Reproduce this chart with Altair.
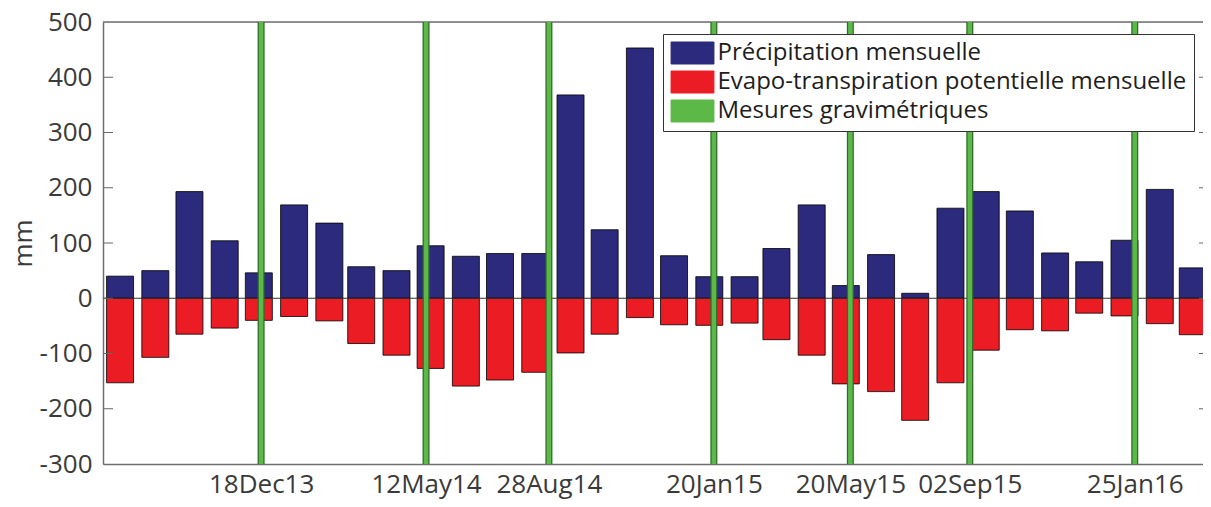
import altair as alt
import pandas as pd

# ---- data ----
months = ["2013-08", "2013-09", "2013-10", "2013-11", "2013-12",
          "2014-01", "2014-02", "2014-03", "2014-04", "2014-05", "2014-06",
          "2014-07", "2014-08", "2014-09", "2014-10", "2014-11", "2014-12",
          "2015-01", "2015-02", "2015-03", "2015-04", "2015-05", "2015-06",
          "2015-07", "2015-08", "2015-09", "2015-10", "2015-11", "2015-12",
          "2016-01", "2016-02", "2016-03"]
precip = [40, 50, 193, 104, 46, 169, 136, 57, 50, 95, 76, 81, 81, 368, 124,
          453, 77, 39, 39, 90, 169, 23, 79, 9, 163, 193, 158, 82, 66, 105, 197, 55]
etp = [-153, -107, -65, -54, -40, -33, -41, -82, -103, -127, -159, -148, -134,
       -99, -65, -35, -48, -49, -45, -75, -103, -155, -169, -221, -153, -94,
       -57, -59, -27, -32, -46, -66]
mesure_dates = ["2013-12-18", "2014-05-12", "2014-08-28", "2015-01-20",
                "2015-05-20", "2015-09-02", "2016-01-25"]
y_ticks = [-300, -200, -100, 0, 100, 200, 300, 400, 500]

S_P = "Précipitation mensuelle"
S_E = "Evapo-transpiration potentielle mensuelle"
S_M = "Mesures gravimétriques"

FONT = "Open Sans"
W, H = 1100, 442
FRAME = "#6f6f6f"

bars = pd.DataFrame({
    "date": [m + "-16T00:00:00" for m in months] * 2,
    "value": precip + etp,
    "serie": [S_P] * len(months) + [S_E] * len(months),
})
mes = pd.DataFrame({"date": [d + "T00:00:00" for d in mesure_dates],
                    "serie": [S_M] * len(mesure_dates)})
ticks = pd.DataFrame({"v": y_ticks[1:-1]})
zero = pd.DataFrame({"v": [0]})
top = pd.DataFrame({"v": [y_ticks[-1]]})

# the visible window of the original ends just before 1 April 2016
x_scale = alt.Scale(domain=[alt.DateTime(year=2013, month=8, date=1),
                            alt.DateTime(year=2016, month=3, date=25)],
                    nice=False, padding=0)
y_scale = alt.Scale(domain=[-300, 500], nice=False, padding=0)
color_scale = alt.Scale(domain=[S_P, S_E, S_M],
                        range=["#2b2a7c", "#ec1c24", "#5cb847"])

x_axis = alt.Axis(values=[alt.DateTime(year=int(d[:4]), month=int(d[5:7]), date=int(d[8:10]))
                          for d in mesure_dates],
                  format="%d%b%y", title=None, grid=False,
                  domain=True, domainColor=FRAME, domainWidth=1.5,
                  tickSize=0, labelPadding=7, labelFontSize=26,
                  labelFont=FONT, labelColor="#3a3a3a")
y_axis = alt.Axis(values=y_ticks, labelExpr="datum.value + ''",
                  title="mm", grid=False,
                  domain=True, domainColor=FRAME, domainWidth=1.5,
                  tickSize=0, labelPadding=11, labelFontSize=26, labelFont=FONT,
                  labelColor="#3a3a3a", titleFontSize=26, titleFont=FONT,
                  titleFontWeight="normal", titleColor="#3a3a3a",
                  titleX=-72, titleBaseline="alphabetic")

legend = alt.Legend(orient="none", legendX=560, legendY=12, title=None,
                    symbolType="M-1.95,-1H1.95V1H-1.95Z", symbolSize=484,
                    symbolStrokeColor="black", symbolStrokeWidth=1,
                    symbolOpacity=1, symbolOffset=10.5,
                    labelFontSize=24, labelFont=FONT, labelColor="#1e1e1e",
                    labelOffset=13, rowPadding=3, padding=7,
                    fillColor="white", strokeColor="#333333", labelLimit=700)

bar_layer = alt.Chart(bars).mark_bar(width=27, stroke="black", strokeWidth=0.8).encode(
    x=alt.X("date:T", scale=x_scale, axis=x_axis),
    y=alt.Y("value:Q", scale=y_scale, axis=y_axis),
    y2=alt.datum(0),
    color=alt.Color("serie:N", scale=color_scale, legend=legend),
)

zero_layer = alt.Chart(zero).mark_rule(color="#333333", strokeWidth=1).encode(
    y=alt.Y("v:Q", scale=y_scale))
top_layer = alt.Chart(top).mark_rule(color=FRAME, strokeWidth=1.5).encode(
    y=alt.Y("v:Q", scale=y_scale))

mes_dark = alt.Chart(mes).mark_rule(color="#2f6b2c", strokeWidth=7).encode(
    x=alt.X("date:T", scale=x_scale))
mes_light = alt.Chart(mes).mark_rule(strokeWidth=4.5, opacity=1).encode(
    x=alt.X("date:T", scale=x_scale),
    color=alt.Color("serie:N", scale=color_scale, legend=legend))

left_ticks = alt.Chart(ticks).mark_rule(color="#666666", strokeWidth=1).encode(
    y=alt.Y("v:Q", scale=y_scale), x=alt.value(0), x2=alt.value(10))
right_ticks = alt.Chart(ticks).mark_rule(color="#666666", strokeWidth=1).encode(
    y=alt.Y("v:Q", scale=y_scale), x=alt.value(W - 4), x2=alt.value(W))

chart = alt.layer(bar_layer, zero_layer, top_layer, mes_dark, mes_light,
                  left_ticks, right_ticks).properties(
    width=W, height=H,
    autosize=alt.AutoSizeParams(type="none"),
    padding={"left": 95, "top": 14, "right": 0, "bottom": 35},
).configure_view(stroke=None).configure(background="white")

chart.save("out.html", embed_options={"renderer": "svg", "actions": False})
